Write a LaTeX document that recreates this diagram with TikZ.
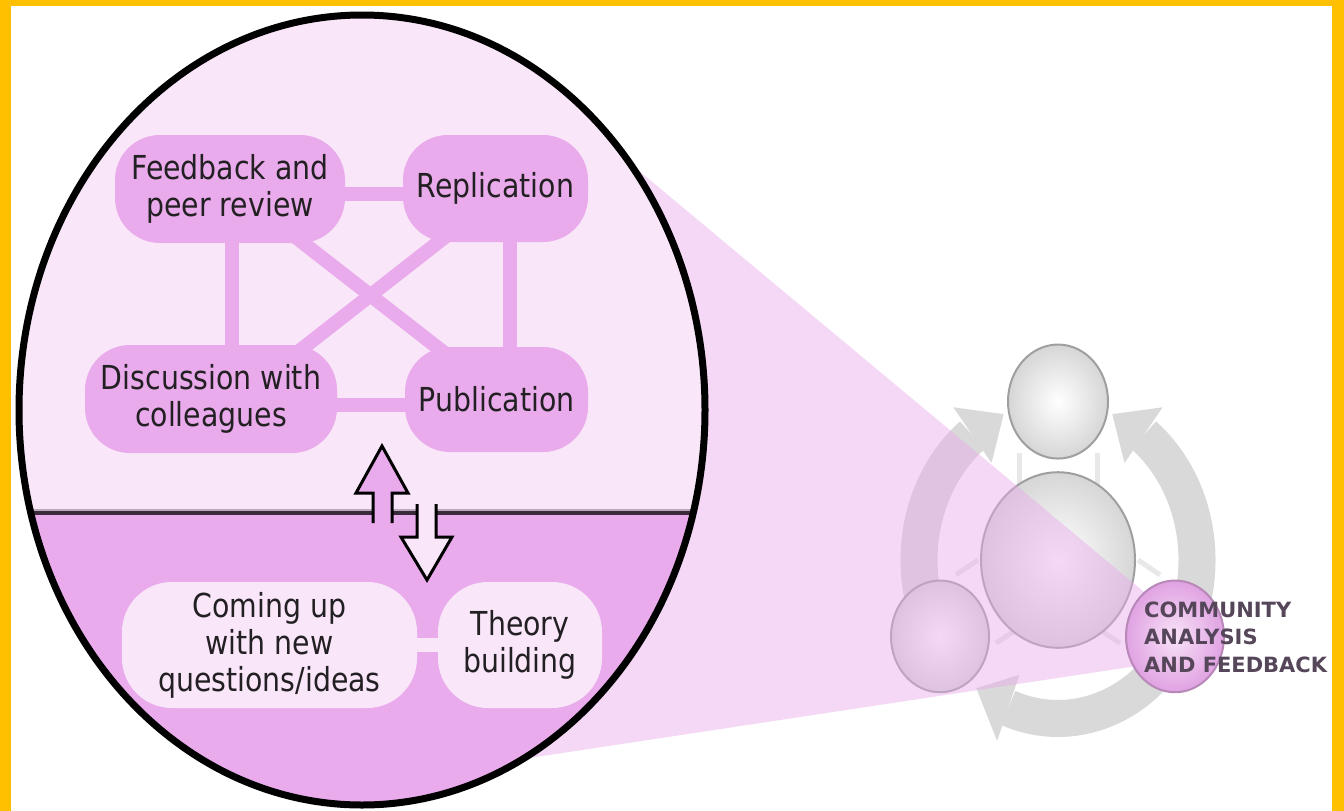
\documentclass[tikz,border=0pt]{standalone}
\usepackage{fontspec}
\setmainfont{DejaVu Sans}[FakeStretch=0.86]
\newfontfamily\commfont{DejaVu Sans}
\definecolor{frameY}{HTML}{FFC000}
\definecolor{lightP}{HTML}{F9E6F9}
\definecolor{boxP}{HTML}{EAABEC}
\definecolor{coneP}{HTML}{E9A9EC}
\definecolor{ringG}{HTML}{D9D9D9}
\definecolor{tinyG}{HTML}{E8E8E8}
\definecolor{txt}{HTML}{222022}
\definecolor{commT}{HTML}{56465A}
\definecolor{divL}{HTML}{3A2A3A}
\definecolor{divS}{HTML}{B9A9BB}
\definecolor{commO}{HTML}{B888B8}
\definecolor{commIn}{HTML}{F8E2F8}
\definecolor{commOut}{HTML}{E0A2E2}
\pgfdeclarelayer{back}
\pgfdeclarelayer{conn}
\pgfsetlayers{back,conn,main}
\begin{document}
\begin{tikzpicture}[x=1pt,y=-1pt,
  pill/.style={rectangle, rounded corners=45pt, inner sep=0pt, align=center, text=txt,
    font=\fontsize{33}{37}\selectfont},
  upbox/.style={pill, fill=boxP},
  lowbox/.style={pill, fill=lightP, rounded corners=50pt},
  link/.style={line width=14pt, boxP},
  lowlink/.style={line width=14pt, lightP},
  arrowline/.style={line width=3pt, black, line join=miter},
  ring/.style={ringG, line width=37pt},
  tiny/.style={tinyG, line width=5pt},
  ballG/.style={draw=gray!75, line width=2pt, inner color=white, outer color=gray!32},
]
\useasboundingbox (0,0) rectangle (1344,811);
\begin{pgfonlayer}{back}
  \fill[frameY] (0,0) rectangle (1344,811);
  \fill[white] (11,6) rectangle (1332,811);
  % right cycle diagram
  \begin{scope}[shift={(1058,560)}, y=1.14pt]
    \draw[ring] (210:139) arc[start angle=210, end angle=128, radius=139];
    \fill[ringG] (128:108) -- (128:170) -- (113:139) -- cycle;
    \draw[ring] (-30:139) arc[start angle=-30, end angle=52, radius=139];
    \fill[ringG] (52:108) -- (52:170) -- (67:139) -- cycle;
    \draw[ring] (-30:139) arc[start angle=-30, end angle=-111, radius=139];
    \fill[ringG] (-111:108) -- (-111:170) -- (-126:139) -- cycle;
    \draw[tiny] (-39,62) -- (-39,94);
    \draw[tiny] (39,62) -- (39,94);
    \draw[tiny] (-40,-60) -- (-62,-73);
    \draw[tiny] (-80,0) -- (-102,-13);
    \draw[tiny] (40,-60) -- (62,-73);
    \draw[tiny] (80,0) -- (102,-13);
    \shadedraw[ballG] (0,139) circle[radius=50];
    \shadedraw[ballG] (0,0) circle[radius=77];
    \shadedraw[ballG] (-118,-67) circle[radius=49];
  \end{scope}
  % projection cone
  \fill[coneP, opacity=0.45] (560,105) -- (1150,597) -- (1150,664) -- (450,770) -- cycle;
  \begin{scope}[shift={(1058,560)}, y=1.14pt]
    \shadedraw[draw=commO, line width=2pt, inner color=commIn, outer color=commOut]
      (117,-67) circle[radius=49];
  \end{scope}
  % magnified ellipse
  \fill[lightP] (362,410) ellipse[x radius=343, y radius=395];
  \begin{scope}
    \clip (362,410) ellipse[x radius=343, y radius=395];
    \fill[boxP] (0,512) rectangle (800,811);
    \draw[divS, line width=2pt] (0,509.5) -- (800,509.5);
    \draw[divL, line width=4pt] (0,512.5) -- (800,512.5);
  \end{scope}
\end{pgfonlayer}

\draw[black, line width=7pt] (362,410) ellipse[x radius=343, y radius=395];

% upper boxes
\node[upbox, minimum width=230pt, minimum height=108pt] (fb) at (230,189) {Feedback and\\peer review};
\node[upbox, minimum width=185pt, minimum height=107pt] (rep) at (495.5,188.5) {Replication};
\node[upbox, minimum width=252pt, minimum height=108pt] (disc) at (211,399) {Discussion with\\colleagues};
\node[upbox, minimum width=183pt, minimum height=105pt] (pub) at (496.5,399.5) {Publication};
% lower boxes
\node[lowbox, minimum width=295pt, minimum height=126pt] (come) at (269.5,645) {Coming up\\with new\\questions/ideas};
\node[lowbox, minimum width=164pt, minimum height=126pt] (theo) at (520,645) {Theory\\building};

\begin{pgfonlayer}{conn}
  \draw[link] ([yshift=-5pt]fb.center) -- ([yshift=-5pt]fb.center -| rep.center);
  \draw[link] ([xshift=2pt]fb.center) -- ([xshift=2pt]fb.center |- disc.center);
  \draw[link] ([xshift=14.5pt]rep.center) -- ([xshift=14.5pt]rep.center |- pub.center);
  \draw[link] ([yshift=-6pt]disc.center) -- ([yshift=-6pt]disc.center -| pub.center);
  \draw[link] ([yshift=3pt]fb.center) -- ([yshift=6pt]pub.center);
  \draw[link] ([yshift=-9pt]rep.center) -- ([yshift=-21pt]disc.center);
  \draw[lowlink] (come.center) -- (theo.center);
\end{pgfonlayer}

% double arrows across the divider
\fill[boxP] (373,523) -- (373,493) -- (356,493) -- (382,446) -- (408,493) -- (392,493) -- (392,523) -- cycle;
\draw[arrowline] (373,523) -- (373,493) -- (356,493) -- (382,446) -- (408,493) -- (392,493) -- (392,523);
\fill[lightP] (417,504) -- (417,537) -- (401,537) -- (427,580) -- (452,537) -- (436,537) -- (436,504) -- cycle;
\draw[arrowline] (417,504) -- (417,537) -- (401,537) -- (427,580) -- (452,537) -- (436,537) -- (436,504);

% label of the highlighted circle
\node[anchor=west, align=left, inner sep=0pt, text=commT,
  font=\commfont\bfseries\fontsize{21}{27.5}\selectfont] (comm) at (1144,637)
  {COMMUNITY\\ANALYSIS\\AND FEEDBACK};
\end{tikzpicture}
\end{document}
